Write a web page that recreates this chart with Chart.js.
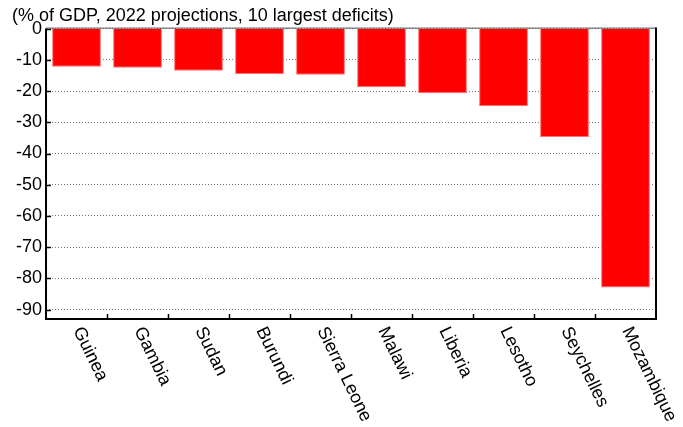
<!DOCTYPE html>
<html lang="en">

<head>
  <title>Fiscal balance</title>
  <script src="https://cdn.jsdelivr.net/npm/chart.js"></script>
  <style>
    html, body { margin: 0; padding: 0; background: #fff; }
    .graficos { width: 683px; height: 427px; }
  </style>
</head>

<body>
  <div class="graficos">
    <canvas id="deficits"></canvas>
  </div>

<script>
  // dados
  var paises = ['Guinea', 'Gambia', 'Sudan', 'Burundi', 'Sierra Leone', 'Malawi', 'Liberia', 'Lesotho', 'Seychelles', 'Mozambique'];
  var saldos = [-12.2, -12.5, -13.5, -14.5, -14.8, -18.8, -20.7, -24.9, -34.7, -82.9];
  var ticksY = [0, -10, -20, -30, -40, -50, -60, -70, -80, -90];
  var titulo = '(% of GDP, 2022 projections, 10 largest deficits)';

  Chart.defaults.font.family = '"Liberation Sans", Arial, sans-serif';
  Chart.defaults.font.size = 18;
  Chart.defaults.color = '#000';

  // moldura, marcas internas e rotulos girados do eixo x
  const moldura = {
    id: 'moldura',
    afterDraw(chart) {
      const ctx = chart.ctx;
      const a = chart.chartArea;
      const xs = chart.scales.x;
      const ys = chart.scales.y;
      ctx.save();

      ctx.strokeStyle = '#000';
      ctx.lineWidth = 1.5;
      ys.ticks.forEach(function (t) {
        var y = Math.round(ys.getPixelForValue(t.value)) + 0.5;
        ctx.beginPath();
        ctx.moveTo(a.left, y);
        ctx.lineTo(a.left + 5, y);
        ctx.stroke();
      });
      for (var i = 1; i < paises.length; i++) {
        var x = Math.round(xs.getPixelForValue(i - 0.5)) + 0.5;
        ctx.beginPath();
        ctx.moveTo(x, a.bottom);
        ctx.lineTo(x, a.bottom - 5);
        ctx.stroke();
      }

      ctx.strokeStyle = '#555';
      ctx.lineWidth = 1;
      ctx.beginPath();
      ctx.moveTo(a.left, a.top - 0.5);
      ctx.lineTo(a.right, a.top - 0.5);
      ctx.stroke();

      ctx.strokeStyle = '#000';
      ctx.lineWidth = 2;
      ctx.beginPath();
      ctx.moveTo(a.left, a.top);
      ctx.lineTo(a.left, a.bottom);
      ctx.lineTo(a.right, a.bottom);
      ctx.lineTo(a.right, a.top - 1);
      ctx.stroke();

      ctx.fillStyle = '#000';
      ctx.font = '18px "Liberation Sans", Arial, sans-serif';
      ctx.textAlign = 'left';
      ctx.textBaseline = 'middle';
      for (var j = 0; j < paises.length; j++) {
        var cx = xs.getPixelForValue(j);
        ctx.save();
        ctx.translate(cx + 1, a.bottom + 9);
        ctx.rotate(64 * Math.PI / 180);
        ctx.fillText(paises[j], 0, 0);
        ctx.restore();
      }
      ctx.restore();
    }
  };

  const config = {
    type: 'bar',
    data: {
      labels: paises,
      datasets: [{
        data: saldos,
        backgroundColor: '#FF0000',
        borderColor: '#FF7070',
        borderWidth: 1,
        barPercentage: 0.8,
        categoryPercentage: 1
      }]
    },
    options: {
      responsive: true,
      maintainAspectRatio: false,
      animation: false,
      layout: { padding: { left: 12, right: 27, top: 0, bottom: 100 } },
      plugins: {
        legend: { display: false },
        tooltip: { enabled: false },
        title: {
          display: true,
          text: titulo,
          align: 'start',
          color: '#000',
          font: { size: 18, weight: 'normal' },
          padding: { top: 5, bottom: 2 }
        }
      },
      scales: {
        x: {
          ticks: { display: false },
          grid: { display: false },
          border: { display: false }
        },
        y: {
          min: -93,
          max: 0,
          afterBuildTicks: function (scale) {
            scale.ticks = ticksY.map(function (v) { return { value: v }; });
          },
          ticks: { padding: 4, color: '#000', font: { size: 18 } },
          grid: { color: '#777', lineWidth: 1, drawTicks: false },
          border: { display: false, dash: [1, 2] }
        }
      }
    },
    plugins: [moldura]
  };

  let myChart = new Chart(document.getElementById('deficits'), config);
</script>
</body>

</html>
